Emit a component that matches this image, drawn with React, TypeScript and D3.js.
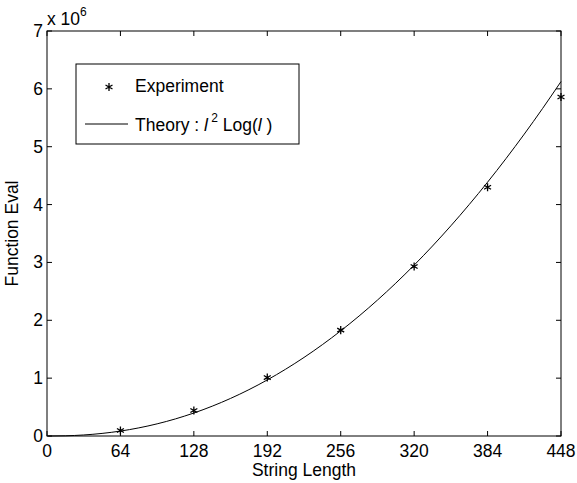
import React from 'react';
import * as d3 from 'd3';

// string lengths where the experiment was run
const lengths = [64, 128, 192, 256, 320, 384, 448];
// function evaluations (x 10^6), read from the stars
const experiment = [0.095, 0.44, 1.01, 1.83, 2.93, 4.3, 5.86];

// theory curve samples l^2 Log(l), scaled (x 10^6)
const theoryL = [1, 16, 32, 48, 64, 80, 96, 112, 128, 144, 160, 176, 192, 208, 224, 240, 256, 272, 288, 304, 320, 336, 352, 368, 384, 400, 416, 432, 448];
const theoryV = [0, 0.0035, 0.0177, 0.0446, 0.0852, 0.1402, 0.2103, 0.2959, 0.3975, 0.5153, 0.6496, 0.8008, 0.9691, 1.1546, 1.3577, 1.5784, 1.8171, 2.0737, 2.3486, 2.6417, 2.9534, 3.2836, 3.6326, 4.0005, 4.3873, 4.7932, 5.2182, 5.6625, 6.1263];

const xTicks = [0, 64, 128, 192, 256, 320, 384, 448];
const yTicks = [0, 1, 2, 3, 4, 5, 6, 7];

const W = 577;
const H = 483;
const font = 'Liberation Sans, Arial, sans-serif';
const fs = 17.5;

export default function App() {
  const ref = React.useRef<SVGSVGElement>(null);

  React.useEffect(() => {
    const svg = d3.select(ref.current);
    svg.selectAll('*').remove();
    const margin = { top: 31, right: 16, bottom: 47, left: 47 };
    const width = W - margin.left - margin.right;
    const height = H - margin.top - margin.bottom;

    const g = svg.append('g')
      .attr('transform', `translate(${margin.left},${margin.top})`);

    const x = d3.scaleLinear().domain([0, 448]).range([0, width]);
    const y = d3.scaleLinear().domain([0, 7]).range([height, 0]);

    // ticks (inward, both sides)
    const tl = 5;
    xTicks.forEach(t => {
      g.append('line').attr('x1', x(t)).attr('x2', x(t)).attr('y1', height).attr('y2', height - tl).attr('stroke', '#000');
      g.append('line').attr('x1', x(t)).attr('x2', x(t)).attr('y1', 0).attr('y2', tl).attr('stroke', '#000');
      g.append('text').attr('x', x(t)).attr('y', height + 21).attr('text-anchor', 'middle')
        .attr('font-family', font).attr('font-size', fs).text(t);
    });
    yTicks.forEach(t => {
      g.append('line').attr('x1', 0).attr('x2', tl).attr('y1', y(t)).attr('y2', y(t)).attr('stroke', '#000');
      g.append('line').attr('x1', width).attr('x2', width - tl).attr('y1', y(t)).attr('y2', y(t)).attr('stroke', '#000');
      g.append('text').attr('x', -4).attr('y', y(t) + 6).attr('text-anchor', 'end')
        .attr('font-family', font).attr('font-size', fs).text(t);
    });

    g.append('rect').attr('width', width).attr('height', height)
      .attr('fill', 'none').attr('stroke', '#000').attr('stroke-width', 1);

    // exponent
    const ex = g.append('text').attr('x', 0).attr('y', -6)
      .attr('font-family', font).attr('font-size', fs);
    ex.append('tspan').text('x 10');
    ex.append('tspan').attr('dy', -9).attr('font-size', 12).text('6');

    const line = d3.line<number>()
      .x((d, i) => x(theoryL[i]))
      .y(d => y(d))
      .curve(d3.curveMonotoneX);

    g.append('path').datum(theoryV)
      .attr('fill', 'none').attr('stroke', '#000').attr('stroke-width', 1)
      .attr('d', line);

    const star = d3.symbol().type(d3.symbolAsterisk).size(45);
    g.selectAll('.pt').data(experiment).enter().append('path')
      .attr('class', 'pt')
      .attr('transform', (d, i) => `translate(${x(lengths[i])},${y(d)})`)
      .attr('d', star)
      .attr('fill', 'none').attr('stroke', '#000').attr('stroke-width', 1.3);

    // axis labels
    g.append('text').attr('x', width / 2).attr('y', height + 40).attr('text-anchor', 'middle')
      .attr('font-family', font).attr('font-size', fs).text('String Length');
    g.append('text').attr('transform', `translate(-29,${height / 2}) rotate(-90)`)
      .attr('text-anchor', 'middle').attr('font-family', font).attr('font-size', fs).text('Function Eval');

    // legend
    const lg = svg.append('g').attr('transform', 'translate(76,64)');
    lg.append('rect').attr('width', 223).attr('height', 80)
      .attr('fill', '#fff').attr('stroke', '#000');
    lg.append('path').attr('transform', 'translate(33,23)').attr('d', star)
      .attr('fill', 'none').attr('stroke', '#000').attr('stroke-width', 1.3);
    lg.append('text').attr('x', 59).attr('y', 28).attr('font-family', font).attr('font-size', fs).text('Experiment');
    lg.append('line').attr('x1', 9).attr('x2', 52).attr('y1', 60).attr('y2', 60).attr('stroke', '#000');
    const tt = lg.append('text').attr('x', 59).attr('y', 67).attr('font-family', font).attr('font-size', fs);
    tt.append('tspan').text('Theory : ');
    tt.append('tspan').attr('font-style', 'italic').text('l');
    tt.append('tspan').attr('dy', -9).attr('font-size', 12).text(' 2');
    tt.append('tspan').attr('dy', 9).text(' Log(');
    tt.append('tspan').attr('font-style', 'italic').text('l');
    tt.append('tspan').text(' )');
  }, []);

  return (
    <svg ref={ref} width={W} height={H} style={{ position: 'absolute', left: 0, top: 0, background: '#fff' }} />
  );
}
